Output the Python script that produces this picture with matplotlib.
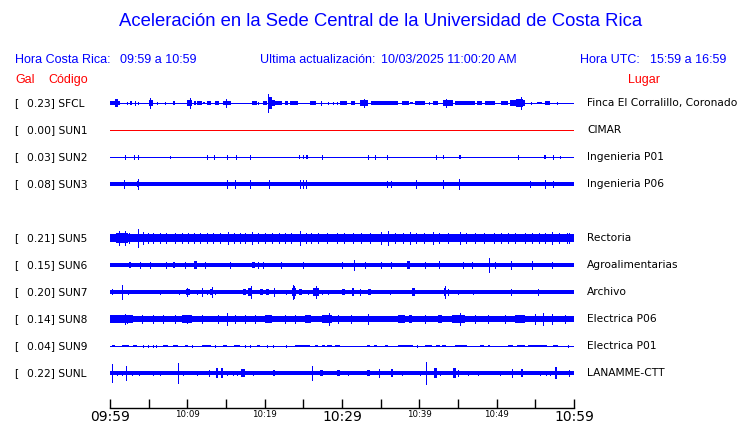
import matplotlib
matplotlib.use("Agg")
import matplotlib.pyplot as plt
from matplotlib.transforms import blended_transform_factory

# stations, top to bottom (row 4 is empty in the page)
codes = ["SFCL", "SUN1", "SUN2", "SUN3", "SUN5", "SUN6", "SUN7", "SUN8", "SUN9", "SUNL"]
rows = [0, 1, 2, 3, 5, 6, 7, 8, 9, 10]
peak_gal = [0.23, 0.00, 0.03, 0.08, 0.21, 0.15, 0.20, 0.14, 0.04, 0.22]
places = ["Finca El Corralillo, Coronado", "CIMAR", "Ingenieria P01", "Ingenieria P06",
          "Rectoria", "Agroalimentarias", "Archivo", "Electrica P06", "Electrica P01",
          "LANAMME-CTT"]
trace_colors = ["blue", "red", "blue", "blue", "blue", "blue", "blue", "blue", "blue", "blue"]

# background (noise) half-width of each trace, in row units (0 = thin line)
base_amp = [0.0, 0.0, 0.0, 0.055, 0.105, 0.068, 0.055, 0.087, 0.0, 0.055]

# events: (start minute, end minute, half amplitude in row units)
sfcl = [(0.0, 1.3, 0.055), (0.7, 1.0, 0.11), (2.15, 2.15, 0.04), (2.55, 2.8, 0.05),
        (3.2, 3.2, 0.05), (3.66, 3.66, 0.04), (5.0, 5.5, 0.08), (5.2, 5.2, 0.15),
        (6.03, 6.03, 0.04), (7.1, 7.1, 0.04), (8.2, 8.45, 0.05), (10.0, 10.6, 0.08),
        (10.3, 10.3, 0.15), (10.8, 11.1, 0.05), (11.3, 11.9, 0.05), (12.0, 12.3, 0.04),
        (12.5, 13.1, 0.06), (13.6, 14.1, 0.06), (14.65, 15.65, 0.07), (15.0, 15.0, 0.11),
        (18.3, 18.95, 0.05), (19.2, 19.2, 0.04), (19.8, 20.3, 0.06), (20.4, 20.9, 0.17),
        (20.47, 20.47, 0.26), (20.9, 21.4, 0.09), (21.4, 22.2, 0.06), (22.6, 23.05, 0.05),
        (23.3, 24.35, 0.05), (25.85, 26.7, 0.07), (27.3, 27.3, 0.05), (28.2, 28.2, 0.04),
        (28.9, 28.9, 0.04), (29.3, 29.3, 0.04), (29.7, 30.6, 0.05), (31.2, 31.7, 0.05),
        (32.3, 33.4, 0.08), (32.9, 32.9, 0.11), (33.8, 37.3, 0.055), (37.7, 38.6, 0.05),
        (38.8, 39.2, 0.04), (39.4, 40.7, 0.05), (41.2, 41.2, 0.04), (41.8, 42.45, 0.07),
        (43.1, 44.4, 0.08), (43.4, 43.4, 0.11), (44.6, 47.2, 0.05), (47.4, 48.05, 0.05),
        (48.5, 49.8, 0.05), (50.6, 51.5, 0.07), (51.7, 53.7, 0.08), (52.5, 53.4, 0.12),
        (53.2, 53.2, 0.18), (54.5, 54.5, 0.04), (55.2, 55.8, 0.04), (56.2, 56.9, 0.05),
        (57.75, 57.75, 0.04)]
sun1 = []
sun2 = [(1.94, 1.94, 0.05), (3.1, 3.1, 0.05), (3.66, 3.66, 0.05), (7.8, 7.8, 0.04),
        (12.6, 12.6, 0.05), (13.5, 13.5, 0.05), (15.1, 15.1, 0.05), (16.25, 16.25, 0.05),
        (18.1, 18.1, 0.05), (24.4, 24.6, 0.06), (24.9, 25.1, 0.07), (25.4, 25.6, 0.06),
        (27.4, 27.4, 0.05), (33.4, 33.4, 0.05), (34.3, 34.3, 0.06), (35.8, 35.8, 0.05),
        (42.2, 42.2, 0.05), (43.0, 43.2, 0.06), (45.1, 45.4, 0.06), (52.7, 52.7, 0.06),
        (56.1, 56.4, 0.06), (57.3, 57.3, 0.05), (58.2, 58.2, 0.04)]
sun3 = [(1.85, 1.85, 0.1), (3.5, 3.8, 0.08), (3.66, 3.66, 0.13), (15.1, 15.1, 0.1),
        (16.2, 16.2, 0.1), (18.1, 18.1, 0.1), (20.5, 20.5, 0.1), (24.6, 24.6, 0.1),
        (25.0, 25.0, 0.1), (25.4, 25.4, 0.1), (35.8, 35.8, 0.09), (36.3, 36.3, 0.09),
        (39.6, 39.6, 0.1), (43.0, 43.0, 0.1), (45.1, 45.1, 0.13), (54.3, 54.3, 0.09),
        (56.3, 56.3, 0.1), (57.3, 57.3, 0.09)]
sun5 = [(0.8, 2.3, 0.13), (11.5, 13.5, 0.12), (24.0, 25.5, 0.12), (56.0, 58.5, 0.12),
        (1.1, 1.1, 0.19), (2.0, 2.0, 0.2), (2.5, 2.5, 0.15), (3.66, 3.66, 0.25),
        (4.3, 4.3, 0.16), (4.9, 4.9, 0.14), (5.6, 5.6, 0.15), (6.5, 6.5, 0.14),
        (7.2, 7.2, 0.15), (8.4, 8.4, 0.14), (9.3, 9.3, 0.15), (10.1, 10.1, 0.14),
        (10.8, 10.8, 0.15), (11.6, 11.6, 0.14), (12.6, 12.6, 0.15), (13.3, 13.3, 0.14),
        (14.2, 14.2, 0.14), (15.2, 15.2, 0.16), (16.0, 16.0, 0.15), (16.8, 16.8, 0.15),
        (17.5, 17.5, 0.14), (18.3, 18.3, 0.16), (19.1, 19.1, 0.14), (20.0, 20.0, 0.15),
        (21.0, 21.0, 0.14), (21.9, 21.9, 0.15), (22.6, 22.6, 0.14), (23.4, 23.4, 0.15),
        (24.6, 24.6, 0.21), (25.3, 25.3, 0.15), (26.0, 26.0, 0.15), (26.9, 26.9, 0.14),
        (28.0, 28.0, 0.14), (29.3, 29.3, 0.15), (30.3, 30.3, 0.14), (31.4, 31.4, 0.15),
        (32.5, 32.5, 0.14), (33.6, 33.6, 0.15), (35.0, 35.0, 0.16), (36.0, 36.0, 0.19),
        (36.9, 36.9, 0.15), (37.9, 37.9, 0.15), (38.8, 38.8, 0.16), (39.6, 39.6, 0.15),
        (40.6, 40.6, 0.14), (41.8, 41.8, 0.16), (42.6, 42.6, 0.15), (43.7, 43.7, 0.15),
        (45.3, 45.3, 0.16), (46.0, 46.0, 0.15), (47.2, 47.2, 0.14), (48.4, 48.4, 0.14),
        (49.7, 49.7, 0.15), (50.6, 50.6, 0.15), (51.5, 51.5, 0.14), (52.4, 52.4, 0.15),
        (53.6, 53.6, 0.15), (54.6, 54.6, 0.14), (55.5, 55.5, 0.15), (56.3, 56.3, 0.15),
        (57.2, 57.2, 0.16), (58.0, 58.0, 0.14), (59.1, 59.1, 0.15), (59.4, 59.4, 0.14)]
sun6 = [(2.5, 2.7, 0.09), (3.3, 3.4, 0.09), (3.9, 3.9, 0.08), (5.2, 5.2, 0.08),
        (7.2, 7.2, 0.08), (8.2, 8.4, 0.08), (9.7, 9.7, 0.08), (10.8, 11.2, 0.1),
        (12.3, 12.3, 0.08), (15.5, 15.5, 0.08), (18.4, 18.7, 0.09), (19.2, 19.2, 0.08),
        (19.8, 19.8, 0.08), (22.1, 22.1, 0.09), (24.9, 24.9, 0.09), (30.0, 30.0, 0.09),
        (31.5, 31.5, 0.13), (33.0, 33.0, 0.08), (35.1, 35.1, 0.08), (36.4, 36.4, 0.08),
        (38.4, 38.8, 0.1), (40.7, 40.7, 0.08), (42.5, 42.7, 0.1), (45.7, 45.7, 0.08),
        (46.8, 46.8, 0.09), (49.04, 49.04, 0.2), (49.8, 49.8, 0.08), (51.9, 51.9, 0.1),
        (54.6, 54.6, 0.1), (57.2, 57.2, 0.08)]
sun7 = [(0.2, 0.45, 0.075), (1.59, 1.59, 0.21), (2.37, 2.37, 0.06), (3.9, 4.5, 0.06),
        (6.46, 6.46, 0.06), (8.9, 8.9, 0.06), (9.8, 10.3, 0.08), (10.0, 10.0, 0.12),
        (11.2, 11.2, 0.06), (11.85, 11.85, 0.1), (12.5, 12.5, 0.07), (12.9, 13.3, 0.09),
        (13.14, 13.14, 0.14), (13.57, 13.57, 0.07), (17.2, 17.6, 0.08), (17.9, 18.4, 0.1),
        (18.2, 18.2, 0.17), (19.4, 19.8, 0.09), (20.2, 20.6, 0.09), (21.2, 21.2, 0.12),
        (22.8, 22.8, 0.07), (23.5, 24.1, 0.11), (23.6, 23.6, 0.2), (23.8, 23.8, 0.18),
        (24.4, 24.8, 0.09), (25.6, 25.6, 0.07), (26.3, 27.0, 0.1), (26.63, 26.63, 0.16),
        (27.4, 27.4, 0.07), (28.2, 28.2, 0.06), (30.0, 30.4, 0.08), (31.3, 31.6, 0.11),
        (32.3, 32.3, 0.08), (33.3, 33.7, 0.08), (34.4, 34.7, 0.07), (36.2, 36.2, 0.07),
        (39.1, 39.4, 0.11), (43.2, 43.5, 0.1), (43.36, 43.36, 0.17), (43.75, 43.75, 0.08),
        (45.0, 45.0, 0.06), (47.0, 47.0, 0.07), (51.9, 51.9, 0.08), (55.4, 55.4, 0.08)]
sun8 = [(0.0, 3.0, 0.1), (1.94, 1.94, 0.13), (2.15, 2.15, 0.11), (4.1, 4.1, 0.12),
        (5.6, 5.6, 0.12), (6.9, 6.9, 0.11), (8.4, 8.4, 0.12), (9.3, 10.6, 0.1),
        (10.0, 10.0, 0.12), (11.85, 11.85, 0.12), (14.0, 14.0, 0.12), (15.08, 15.08, 0.18),
        (16.2, 16.2, 0.12), (17.45, 17.45, 0.11), (18.75, 18.75, 0.12), (20.0, 20.9, 0.1),
        (22.6, 22.6, 0.11), (23.9, 23.9, 0.11), (25.2, 26.0, 0.1), (27.4, 28.7, 0.11),
        (28.3, 28.3, 0.18), (29.5, 29.5, 0.12), (31.2, 31.2, 0.12), (33.4, 33.4, 0.14),
        (37.3, 38.1, 0.11), (38.6, 39.0, 0.1), (40.7, 40.7, 0.11), (42.45, 42.9, 0.1),
        (44.2, 45.9, 0.11), (45.25, 45.25, 0.18), (47.2, 47.2, 0.12), (48.9, 48.9, 0.12),
        (51.1, 51.1, 0.12), (52.4, 53.6, 0.11), (54.95, 54.95, 0.13), (56.0, 56.0, 0.18),
        (57.1, 57.1, 0.13), (58.8, 58.8, 0.12)]
sun9 = [(0.2, 0.65, 0.04), (1.5, 2.4, 0.04), (3.0, 3.45, 0.04), (4.3, 4.3, 0.035),
        (4.95, 4.95, 0.035), (5.6, 5.6, 0.035), (6.0, 6.0, 0.035), (6.9, 7.55, 0.04),
        (8.2, 8.8, 0.04), (9.7, 10.1, 0.04), (10.64, 10.64, 0.035), (11.85, 13.1, 0.04),
        (13.57, 13.57, 0.035), (14.65, 15.1, 0.04), (16.0, 16.8, 0.04), (17.45, 17.45, 0.035),
        (18.1, 18.1, 0.035), (18.95, 19.4, 0.04), (20.25, 20.25, 0.035), (21.1, 21.1, 0.035),
        (22.8, 22.8, 0.035), (23.9, 25.8, 0.04), (26.5, 26.9, 0.04), (27.4, 27.8, 0.04),
        (28.0, 28.7, 0.04), (29.1, 29.7, 0.04), (33.2, 33.6, 0.04), (34.2, 34.5, 0.04),
        (35.5, 35.9, 0.04), (37.3, 39.2, 0.04), (39.65, 39.65, 0.035), (40.7, 41.6, 0.04),
        (42.2, 42.7, 0.04), (42.9, 43.5, 0.04), (44.6, 46.1, 0.04), (47.8, 48.3, 0.04),
        (48.9, 49.1, 0.04), (51.5, 52.15, 0.04), (52.6, 53.7, 0.04), (54.1, 56.5, 0.04),
        (57.3, 57.97, 0.04), (59.26, 59.26, 0.035)]
sunl = [(0.3, 0.3, 0.25), (0.86, 0.86, 0.07), (1.51, 1.51, 0.07), (2.11, 2.11, 0.2),
        (2.8, 2.8, 0.07), (3.79, 3.79, 0.07), (4.7, 4.95, 0.07), (5.6, 5.6, 0.06),
        (6.46, 6.46, 0.06), (8.75, 8.75, 0.28), (9.48, 9.48, 0.07), (11.2, 11.2, 0.07),
        (12.8, 12.8, 0.075), (13.75, 14.0, 0.15), (14.4, 14.65, 0.14), (15.08, 15.08, 0.07),
        (15.86, 15.86, 0.07), (16.37, 16.37, 0.07), (16.9, 17.4, 0.12), (18.53, 18.53, 0.07),
        (21.1, 21.35, 0.08), (25.6, 26.3, 0.07), (26.07, 26.07, 0.2), (27.1, 27.6, 0.08),
        (29.4, 29.8, 0.09), (30.81, 30.81, 0.07), (33.2, 33.6, 0.08), (34.82, 34.82, 0.1),
        (36.3, 36.55, 0.12), (37.7, 37.7, 0.06), (39.1, 39.25, 0.07), (40.08, 40.08, 0.07),
        (40.81, 40.81, 0.3), (41.9, 42.3, 0.15), (42.67, 42.67, 0.07), (44.3, 44.7, 0.15),
        (45.04, 45.04, 0.08), (46.33, 46.33, 0.07), (47.62, 47.62, 0.06), (50.42, 50.42, 0.07),
        (52.02, 52.02, 0.12), (53.1, 53.45, 0.1), (55.6, 55.6, 0.07), (56.33, 56.33, 0.07),
        (56.89, 56.89, 0.07), (57.5, 57.85, 0.17), (59.35, 59.35, 0.075)]
events = [sfcl, sun1, sun2, sun3, sun5, sun6, sun7, sun8, sun9, sunl]

tick_minutes = list(range(0, 61, 5))
tick_labels = ["09:59", "", "10:09", "", "10:19", "", "10:29", "", "10:39", "", "10:49", "", "10:59"]
big_labels = ["09:59", "10:29", "10:59"]

W, H = 740, 423
gain = 1.3  # row units -> drawn half height
fig = plt.figure(figsize=(W / 100, H / 100), dpi=100)
fig.patch.set_facecolor("white")


def fx(px):
    return px / W


def fy(py):
    return 1 - py / H


hdr = "Liberation Sans"
fig.text(fx(381), fy(22), "Aceleración en la Sede Central de la Universidad de Costa Rica",
         color="blue", fontsize=13.3, family=hdr, ha="center", va="center")
fig.text(fx(15), fy(60), "Hora Costa Rica:", color="blue", fontsize=9, family=hdr, va="center")
fig.text(fx(120), fy(60), "09:59 a 10:59", color="blue", fontsize=9, family=hdr, va="center")
fig.text(fx(260), fy(60), "Ultima actualización:", color="blue", fontsize=9, family=hdr, va="center")
fig.text(fx(381), fy(60), "10/03/2025 11:00:20 AM", color="blue", fontsize=9, family=hdr, va="center")
fig.text(fx(580), fy(60), "Hora UTC:", color="blue", fontsize=9, family=hdr, va="center")
fig.text(fx(650), fy(60), "15:59 a 16:59", color="blue", fontsize=9, family=hdr, va="center")
fig.text(fx(15), fy(80), "Gal", color="red", fontsize=9, family=hdr, va="center")
fig.text(fx(48), fy(80), "Código", color="red", fontsize=9, family=hdr, va="center")
fig.text(fx(628), fy(80), "Lugar", color="red", fontsize=9, family=hdr, va="center")

# trace panel: x in minutes after 09:59, y = -row
ax = fig.add_axes([fx(110), fy(400), fx(574) - fx(110), (400 - 90) / H])
ax.set_xlim(0, 60)
ax.set_ylim(-(400 - 103) / 27, 13 / 27)
ax.axis("off")

lab_tr = blended_transform_factory(fig.transFigure, ax.transData)
for code, r, g, place, col, b, ev in zip(codes, rows, peak_gal, places, trace_colors, base_amp, events):
    y = -r
    if b > 0:
        ax.fill_between([0, 60], y - b * gain, y + b * gain, color=col, lw=0, antialiased=False)
    ax.hlines(y, 0, 60, color=col, lw=0.72, antialiased=False)
    for t0, t1, a in ev:
        a = a * gain
        if t1 - t0 < 0.05:
            ax.vlines(t0, y - a, y + a, color=col, lw=0.72, antialiased=False)
        else:
            ax.fill_between([t0, t1], y - a, y + a, color=col, lw=0, antialiased=False)
    ax.text(fx(14), y, "[", transform=lab_tr, fontsize=7.7, va="center", ha="left")
    ax.text(fx(27), y, f"{g:.2f}] {code}", transform=lab_tr, fontsize=7.7, va="center", ha="left")
    ax.text(fx(587), y, place, transform=lab_tr, fontsize=7.7, va="center", ha="left")

# time axis
axt = fig.add_axes([fx(110), fy(408), fx(574) - fx(110), 10 / H])
axt.set_xlim(0, 60)
axt.set_ylim(0, 1)
for s in ["top", "left", "right"]:
    axt.spines[s].set_visible(False)
axt.spines["bottom"].set_linewidth(1.0)
axt.set_yticks([])
axt.set_xticks(tick_minutes)
axt.set_xticklabels(tick_labels)
axt.tick_params(axis="x", direction="in", length=6.5, width=1.0, pad=1.5)
for lab in axt.get_xticklabels():
    lab.set_fontsize(10 if lab.get_text() in big_labels else 6.2)
    lab.set_va("top")

fig.savefig("out.png", dpi=100, facecolor="white")
